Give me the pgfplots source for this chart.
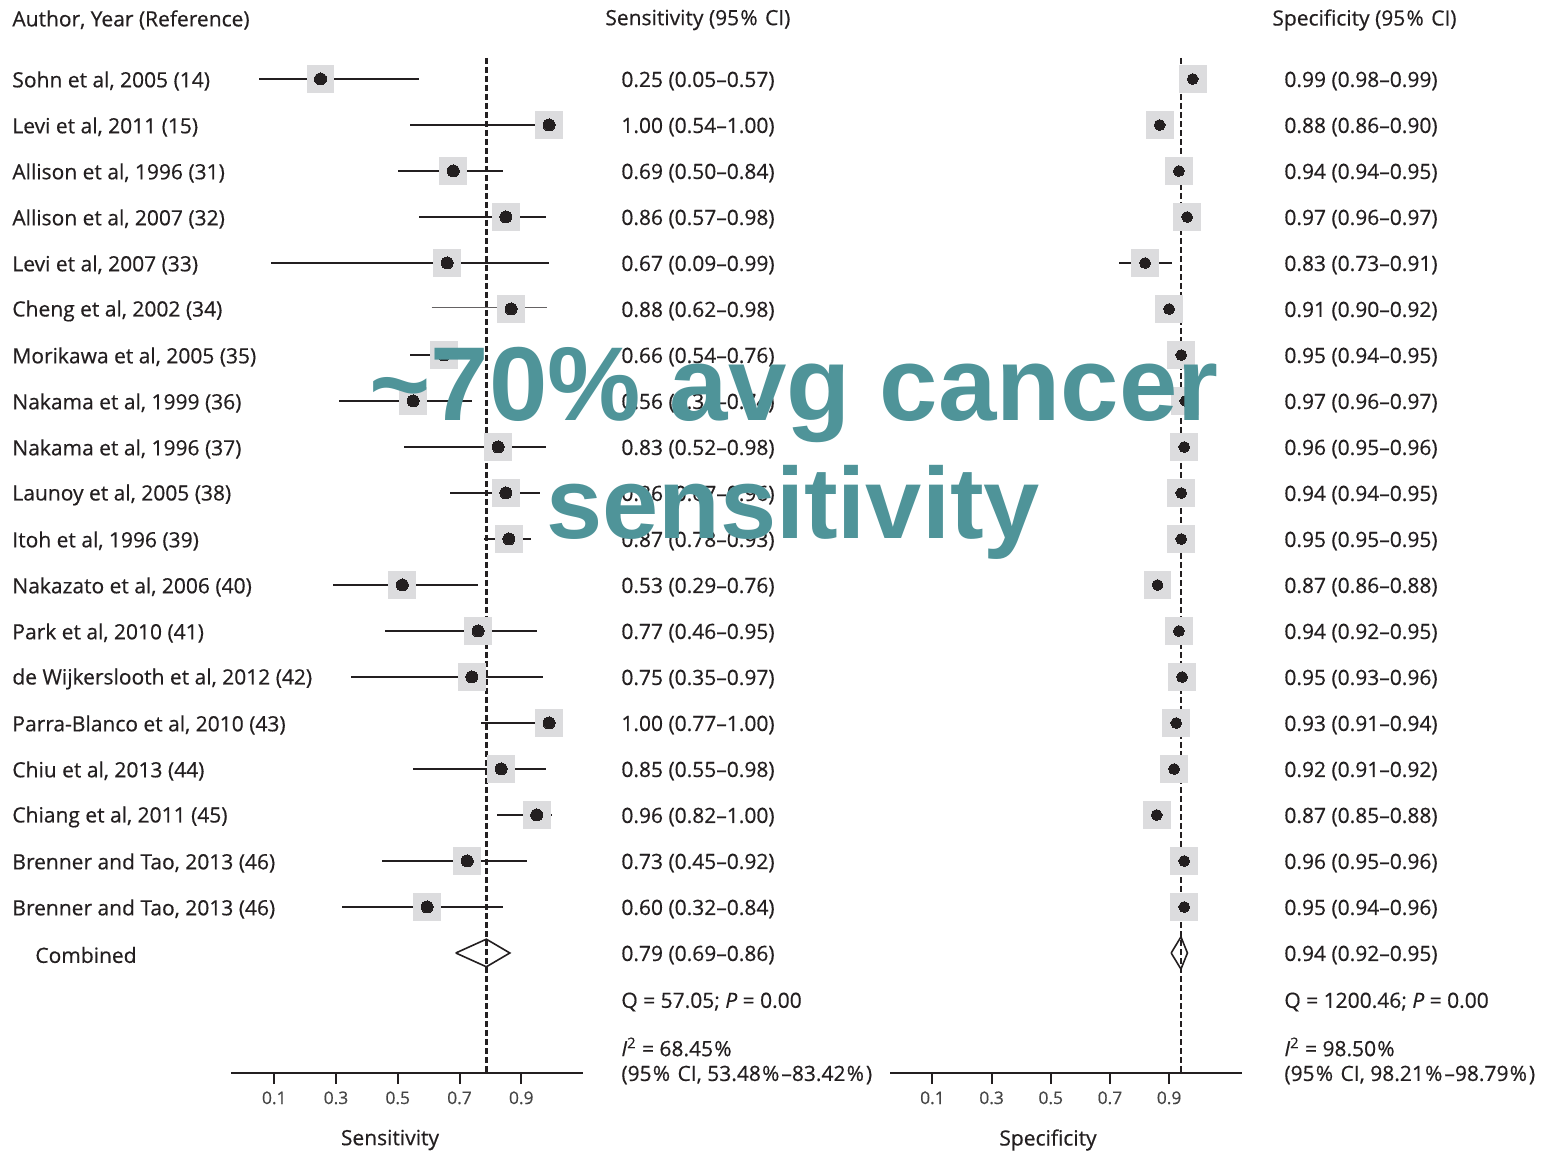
\documentclass[border=0pt]{standalone}
\usepackage{fontspec}
\setmainfont{Open Sans}[FakeBold=0.5]
\newfontfamily\overlayfont{Liberation Sans}
\usepackage{pgfplots}
\pgfplotsset{compat=1.18}
\usepackage{pgfplotstable}
\definecolor{ink}{RGB}{35,31,32}
\definecolor{boxgray}{RGB}{220,220,222}
\definecolor{tickgray}{RGB}{70,70,70}
\definecolor{ovteal}{RGB}{79,148,153}
\newcommand\pc{\kern0.6pt\%\kern1pt}

% row, plotted estimate, lower CI, upper CI
\pgfplotstableread{
row est lo hi
-1 0.25 0.05 0.57
-2 0.99 0.54 1.00
-3 0.68 0.50 0.84
-4 0.85 0.57 0.98
-5 0.66 0.09 0.99
-7 0.65 0.54 0.76
-8 0.55 0.31 0.74
-9 0.825 0.52 0.98
-10 0.85 0.67 0.96
-11 0.86 0.78 0.93
-12 0.515 0.29 0.76
-13 0.76 0.46 0.95
-14 0.74 0.35 0.97
-15 0.99 0.77 1.00
-16 0.835 0.55 0.98
-17 0.95 0.82 1.00
-18 0.725 0.45 0.92
-19 0.595 0.32 0.84
}\senstab
\pgfplotstableread{
row est
-6 0.867
}\senscheng
\pgfplotstableread{
row est lo hi
-1 0.98 0.98 0.99
-2 0.868 0.86 0.90
-3 0.933 0.94 0.95
-4 0.961 0.96 0.97
-5 0.819 0.73 0.91
-6 0.900 0.90 0.92
-7 0.941 0.94 0.95
-8 0.955 0.96 0.97
-9 0.951 0.95 0.96
-10 0.941 0.94 0.95
-11 0.941 0.95 0.95
-12 0.861 0.86 0.88
-13 0.933 0.92 0.95
-14 0.944 0.93 0.96
-15 0.924 0.91 0.94
-16 0.917 0.91 0.92
-17 0.858 0.85 0.88
-18 0.951 0.95 0.96
-19 0.951 0.94 0.96
}\spectab

\pgfplotsset{
  forest/.style={
    scale only axis, clip=false,
    width=176pt, height=507.5pt,
    ymin=-22.609, ymax=-0.5435,
    axis x line=bottom, axis y line=none,
    x axis line style={-, line width=1.1pt, draw=ink},
    xtick={0.1,0.3,0.5,0.7,0.9},
    tick align=outside,
    major tick length=5.5pt,
    x tick style={line width=1pt, draw=ink},
    ytick=\empty,
    xticklabel style={font=\fontsize{8.7}{10}\selectfont, text=tickgray},
    /pgf/number format/assume math mode=true,
    /pgf/number format/fixed,
  },
  boxes/.style={boxgray, only marks, mark=square*, mark size=6.7pt, mark options={draw=boxgray, fill=boxgray, line width=0pt}},
  dots/.style={ink, only marks, mark=*, mark size=3pt, mark options={draw=ink, fill=ink, line width=0pt}},
  cis/.style={ink, only marks, mark=none,
    error bars/.cd, x dir=both, x explicit, error mark=none,
    error bar style={line width=1pt, solid, draw=ink}},
  refline/.style={ink, line width=1.2pt, dash pattern=on 3pt off 1.5pt},
}

\begin{document}
\fontsize{10.5pt}{12.6pt}\selectfont
\begin{tikzpicture}
\begin{scope}[x=0.5pt,y=0.5pt]
\path[use as bounding box] (0,0) rectangle (1564,1152);
\end{scope}

% ---------- Sensitivity panel ----------
\begin{axis}[forest, at={(115.5pt,39.5pt)}, anchor=south west,
  xmin=-0.0401, xmax=1.1]
  \addplot[boxes] table[x=est,y=row] {\senstab};
  \addplot[boxes] table[x=est,y=row] {\senscheng};
  \addplot[refline] coordinates {(0.787,-0.5435) (0.787,-22.609)};
  \addplot[cis] table[x=est, y=row,
     x error plus expr=\thisrow{hi}-\thisrow{est},
     x error minus expr=\thisrow{est}-\thisrow{lo}] {\senstab};
  \addplot[ink!70, line width=0.35pt, double=white, double distance=0.8pt] coordinates {(0.61,-6) (0.985,-6)};
  \addplot[dots] table[x=est,y=row] {\senstab};
  \addplot[dots] table[x=est,y=row] {\senscheng};
  \addplot[ink, line width=0.8pt] coordinates {(0.688,-20) (0.787,-19.7) (0.863,-20) (0.787,-20.3) (0.688,-20)};
\end{axis}

% ---------- Specificity panel ----------
\begin{axis}[forest, at={(445pt,39.5pt)}, anchor=south west,
  xmin=-0.0434, xmax=1.1464]
  \addplot[boxes] table[x=est,y=row] {\spectab};
  \addplot[refline] coordinates {(0.94,-0.5435) (0.94,-22.609)};
  \addplot[cis] table[x=est, y=row,
     x error plus expr=\thisrow{hi}-\thisrow{est},
     x error minus expr=\thisrow{est}-\thisrow{lo}] {\spectab};
  \addplot[dots, mark size=2.7pt] table[x=est,y=row] {\spectab};
  \addplot[ink, line width=0.8pt] coordinates {(0.907,-20) (0.94,-19.65) (0.962,-20) (0.94,-20.35) (0.907,-20)};
\end{axis}

% ---------- Text ----------
\begin{scope}[x=0.5pt,y=0.5pt]
\begin{scope}[every node/.style={anchor=west, inner sep=0pt, text=ink}]
\node at (12,1152-20) {Author, Year (Reference)};
\node at (605,1152-20) {Sensitivity (95\pc{} CI)};
\node at (1272,1152-20) {Specificity (95\pc{} CI)};

\foreach \t [count=\i] in {
  {Sohn et al, 2005 (14)},
  {Levi et al, 2011 (15)},
  {Allison et al, 1996 (31)},
  {Allison et al, 2007 (32)},
  {Levi et al, 2007 (33)},
  {Cheng et al, 2002 (34)},
  {Morikawa et al, 2005 (35)},
  {Nakama et al, 1999 (36)},
  {Nakama et al, 1996 (37)},
  {Launoy et al, 2005 (38)},
  {Itoh et al, 1996 (39)},
  {Nakazato et al, 2006 (40)},
  {Park et al, 2010 (41)},
  {de Wijkerslooth et al, 2012 (42)},
  {Parra-Blanco et al, 2010 (43)},
  {Chiu et al, 2013 (44)},
  {Chiang et al, 2011 (45)},
  {Brenner and Tao, 2013 (46)},
  {Brenner and Tao, 2013 (46)}}
  {\node at (12,{1152-81-46*(\i-1)}) {\t};}
\node at (35,1152-955) {Combined};

\foreach \t [count=\i] in {
  {0.25 (0.05–0.57)},
  {1.00 (0.54–1.00)},
  {0.69 (0.50–0.84)},
  {0.86 (0.57–0.98)},
  {0.67 (0.09–0.99)},
  {0.88 (0.62–0.98)},
  {0.66 (0.54–0.76)},
  {0.56 (0.31–0.74)},
  {0.83 (0.52–0.98)},
  {0.86 (0.67–0.96)},
  {0.87 (0.78–0.93)},
  {0.53 (0.29–0.76)},
  {0.77 (0.46–0.95)},
  {0.75 (0.35–0.97)},
  {1.00 (0.77–1.00)},
  {0.85 (0.55–0.98)},
  {0.96 (0.82–1.00)},
  {0.73 (0.45–0.92)},
  {0.60 (0.32–0.84)},
  {0.79 (0.69–0.86)}}
  {\node at (621,{1152-81-46*(\i-1)}) {\t};}

\foreach \t [count=\i] in {
  {0.99 (0.98–0.99)},
  {0.88 (0.86–0.90)},
  {0.94 (0.94–0.95)},
  {0.97 (0.96–0.97)},
  {0.83 (0.73–0.91)},
  {0.91 (0.90–0.92)},
  {0.95 (0.94–0.95)},
  {0.97 (0.96–0.97)},
  {0.96 (0.95–0.96)},
  {0.94 (0.94–0.95)},
  {0.95 (0.95–0.95)},
  {0.87 (0.86–0.88)},
  {0.94 (0.92–0.95)},
  {0.95 (0.93–0.96)},
  {0.93 (0.91–0.94)},
  {0.92 (0.91–0.92)},
  {0.87 (0.85–0.88)},
  {0.96 (0.95–0.96)},
  {0.95 (0.94–0.96)},
  {0.94 (0.92–0.95)}}
  {\node at (1284,{1152-81-46*(\i-1)}) {\t};}

\node at (621,1152-1002) {Q = 57.05; \textit{P} = 0.00};
\node at (621,1152-1047) {\textit{I}\textsuperscript{2} = 68.45\pc};
\node at (621,1152-1075) {(95\pc{} CI, 53.48\pc–83.42\pc)};
\node at (1284,1152-1002) {Q = 1200.46; \textit{P} = 0.00};
\node at (1284,1152-1047) {\textit{I}\textsuperscript{2} = 98.50\pc};
\node at (1284,1152-1075) {(95\pc{} CI, 98.21\pc–98.79\pc)};
\end{scope}

\node[anchor=center, inner sep=0pt, text=ink] at (390,1152-1140) {Sensitivity};
\node[anchor=center, inner sep=0pt, text=ink] at (1048,1152-1140) {Specificity};

% ---------- Overlay ----------
\node[anchor=base, inner sep=0pt, text=ovteal, font=\overlayfont\bfseries\fontsize{52.5pt}{58pt}\selectfont] at (794,1152-421) {\textasciitilde70\% avg cancer};
\node[anchor=base, inner sep=0pt, text=ovteal, font=\overlayfont\bfseries\fontsize{50.5pt}{57pt}\selectfont] at (793,1152-539) {sensitivity};
\end{scope}
\end{tikzpicture}
\end{document}
